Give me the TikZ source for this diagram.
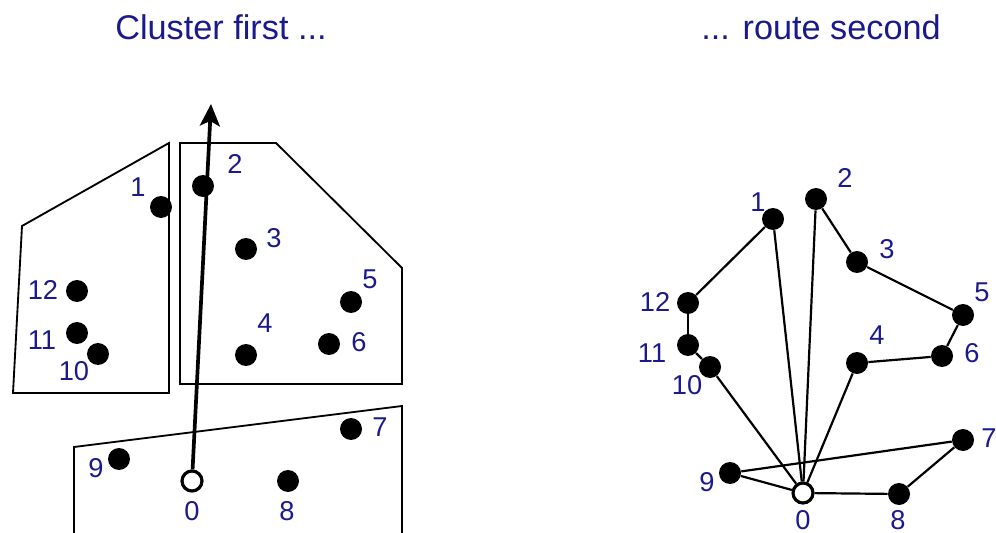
\documentclass[tikz,border=0pt]{standalone}
\usepackage{fontspec}
\setmainfont{Liberation Sans}
\usetikzlibrary{arrows.meta}
\definecolor{lblue}{RGB}{26,26,140}
\tikzset{
  dot/.style={circle,fill=black,inner sep=0pt,minimum size=0.44cm},
  depot/.style={circle,draw=black,fill=white,line width=1.8pt,inner sep=0pt,minimum size=0.40cm},
  lbl/.style={text=lblue,inner sep=0pt,font=\fontsize{15.5}{18}\selectfont},
  ttl/.style={text=lblue,inner sep=0pt,font=\fontsize{19.5}{23}\selectfont},
  region/.style={draw=black,line width=1.05pt,line join=miter},
  edge/.style={draw=black,line width=1.25pt},
}
\begin{document}
\begin{tikzpicture}[x=0.02cm,y=-0.02cm]
\useasboundingbox (0,0) rectangle (996,533);
% titles
\node[ttl] (t1) at (221,27) {Cluster first ...};
\node[ttl] (t2) at (821,27) {... route second};
% cluster regions
\draw[region] (22,226) -- (169,143) -- (169,393) -- (13,393) -- cycle;
\draw[region] (180,143) -- (276,143) -- (402,268) -- (402,384) -- (180,384) -- cycle;
\draw[region] (74,533) -- (74,447) -- (402,406) -- (402,533);
% left points
\node[dot] (l1) at (161,207) {};
\node[dot] (l2) at (203,186) {};
\node[dot] (l3) at (246,249) {};
\node[dot] (l4) at (246,355) {};
\node[dot] (l5) at (351,302) {};
\node[dot] (l6) at (329,344) {};
\node[dot] (l7) at (351,429) {};
\node[dot] (l8) at (288,481) {};
\node[dot] (l9) at (119,459) {};
\node[dot] (l10) at (98,354) {};
\node[dot] (l11) at (77,333) {};
\node[dot] (l12) at (77,291) {};
\node[depot] (l0) at (192,481) {};
\coordinate (tip) at (211,104);
\draw[line width=2.1pt,-{Stealth[length=22*0.02cm,width=20*0.02cm,inset=5*0.02cm]}] (l0) -- (tip);
% left labels
\node[lbl] (a1) at (138,187) {1};
\node[lbl] (a2) at (235,164) {2};
\node[lbl] (a3) at (274,238) {3};
\node[lbl] (a4) at (265,323) {4};
\node[lbl] (a5) at (370,279) {5};
\node[lbl] (a6) at (359,342) {6};
\node[lbl] (a7) at (380,427) {7};
\node[lbl] (a8) at (287,511) {8};
\node[lbl] (a9) at (96,468) {9};
\node[lbl] (a0) at (192,511) {0};
\node[lbl] (a10) at (74,371) {10};
\node[lbl] (a11) at (42,340) {11};
\node[lbl] (a12) at (43,290) {12};
% right points
\node[dot] (r1) at (773,219) {};
\node[dot] (r2) at (816,199) {};
\node[dot] (r3) at (857,262) {};
\node[dot] (r4) at (857,363) {};
\node[dot] (r5) at (963,315) {};
\node[dot] (r6) at (942,356) {};
\node[dot] (r7) at (963,440) {};
\node[dot] (r8) at (899,494) {};
\node[dot] (r9) at (730,473) {};
\node[dot] (r10) at (710,367) {};
\node[dot] (r11) at (688,345) {};
\node[dot] (r12) at (688,303) {};
\node[depot] (r0) at (803,493) {};
% routes
\draw[edge] (r0) -- (r1);
\draw[edge] (r1) -- (r12);
\draw[edge] (r12) -- (r11);
\draw[edge] (r11) -- (r10);
\draw[edge] (r10) -- (r0);
\draw[edge] (r0) -- (r2);
\draw[edge] (r2) -- (r3);
\draw[edge] (r3) -- (r5);
\draw[edge] (r5) -- (r6);
\draw[edge] (r6) -- (r4);
\draw[edge] (r4) -- (r0);
\draw[edge] (r0) -- (r9);
\draw[edge] (r9) -- (r7);
\draw[edge] (r7) -- (r8);
\draw[edge] (r8) -- (r0);
% right labels
\node[lbl] (b1) at (758,202) {1};
\node[lbl] (b2) at (845,178) {2};
\node[lbl] (b3) at (887,249) {3};
\node[lbl] (b4) at (877,335) {4};
\node[lbl] (b5) at (982,292) {5};
\node[lbl] (b6) at (972,353) {6};
\node[lbl] (b7) at (989,438) {7};
\node[lbl] (b8) at (898,520) {8};
\node[lbl] (b9) at (707,482) {9};
\node[lbl] (b0) at (803,520) {0};
\node[lbl] (b10) at (687,385) {10};
\node[lbl] (b11) at (652,353) {11};
\node[lbl] (b12) at (655,302) {12};
\end{tikzpicture}
\end{document}
